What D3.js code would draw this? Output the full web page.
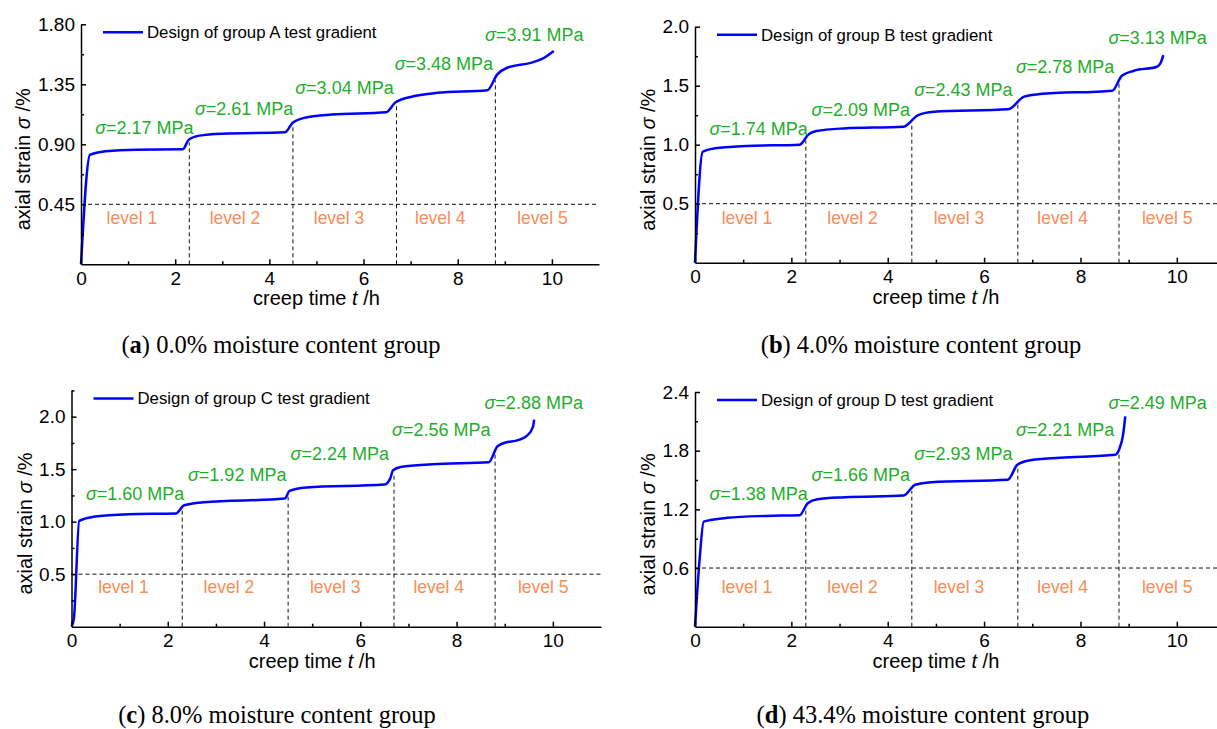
<!DOCTYPE html>
<html><head><meta charset="utf-8">
<script src="https://cdn.jsdelivr.net/npm/d3@7"></script>
<style>body{margin:0;background:#fff;overflow:hidden} svg{display:block}</style>
</head><body>
<svg id="chart" width="1217" height="729"></svg>
<script>
// ---------- data ----------
const levels = ["level 1", "level 2", "level 3", "level 4", "level 5"];
const levelBounds = [2.3, 4.5, 6.7, 8.8];
const levelCenters = [1.08, 3.27, 5.48, 7.63, 9.8];
const labelTimes = [0.3, 2.42, 4.55, 6.66, 8.58];
const xTicks = [0, 2, 4, 6, 8, 10];
const xMinorTicks = [1, 3, 5, 7, 9];
const groups = ["A", "B", "C", "D"];
const captionLetters = ["a", "b", "c", "d"];
const moistureContents = ["0.0%", "4.0%", "8.0%", "43.4%"];

const timeA   = [0, 0.19, 0.52, 1.18, 2.16, 2.29, 2.51, 3.0, 4.33, 4.49, 4.74, 5.32, 6.48, 6.68, 7.06, 7.56, 8.63, 8.84, 9.05, 9.55, 9.79, 10.04];
const strainA = [0, 0.82, 0.847, 0.86, 0.862, 0.935, 0.965, 0.98, 0.99, 1.06, 1.098, 1.123, 1.14, 1.215, 1.26, 1.286, 1.306, 1.424, 1.474, 1.511, 1.54, 1.60];
const stressA = ["2.17", "2.61", "3.04", "3.48", "3.91"];
const yTicksA = [0.45, 0.90, 1.35, 1.80];
const yTickLabelsA = ["0.45", "0.90", "1.35", "1.80"];
const thresholdA = 0.45;
const labelStrainA = [1.025, 1.170, 1.328, 1.508, 1.720];
const levelTextStrainA = 0.345;

const timeB   = [0, 0.16, 0.41, 1.06, 2.17, 2.36, 2.52, 3.09, 4.33, 4.63, 4.96, 6.5, 6.83, 7.15, 8.66, 8.86, 9.11, 9.59, 9.66, 9.72];
const strainB = [0, 0.94, 0.969, 0.989, 1.0, 1.088, 1.116, 1.138, 1.153, 1.251, 1.28, 1.30, 1.407, 1.429, 1.458, 1.585, 1.627, 1.661, 1.69, 1.76];
const stressB = ["1.74", "2.09", "2.43", "2.78", "3.13"];
const yTicksB = [0.5, 1.0, 1.5, 2.0];
const yTickLabelsB = ["0.5", "1.0", "1.5", "2.0"];
const thresholdB = 0.5;
const labelStrainB = [1.139, 1.295, 1.469, 1.661, 1.907];
const levelTextStrainB = 0.376;

const timeC   = [0, 0.05, 0.16, 0.45, 1.19, 2.17, 2.34, 2.75, 4.43, 4.53, 4.88, 6.5, 6.62, 6.68, 6.84, 7.5, 8.67, 8.85, 9.06, 9.22, 9.47, 9.59, 9.61];
const strainC = [0, 0.08, 1.008, 1.046, 1.071, 1.078, 1.157, 1.185, 1.22, 1.293, 1.325, 1.353, 1.41, 1.49, 1.521, 1.547, 1.566, 1.718, 1.759, 1.769, 1.822, 1.908, 1.971];
const stressC = ["1.60", "1.92", "2.24", "2.56", "2.88"];
const yTicksC = [0.5, 1.0, 1.5, 2.0];
const yTickLabelsC = ["0.5", "1.0", "1.5", "2.0"];
const thresholdC = 0.5;
const labelStrainC = [1.269, 1.450, 1.650, 1.872, 2.135];
const levelTextStrainC = 0.375;

const timeD   = [0, 0.1, 0.18, 0.67, 1.48, 2.17, 2.34, 2.54, 3.11, 4.33, 4.57, 4.9, 6.49, 6.69, 6.93, 7.58, 8.72, 8.8, 8.89, 8.93];
const strainD = [0, 0.717, 1.075, 1.113, 1.133, 1.14, 1.263, 1.304, 1.324, 1.341, 1.451, 1.478, 1.502, 1.655, 1.70, 1.727, 1.758, 1.809, 1.98, 2.15];
const stressD = ["1.38", "1.66", "2.93", "2.21", "2.49"];
const yTicksD = [0.6, 1.2, 1.8, 2.4];
const yTickLabelsD = ["0.6", "1.2", "1.8", "2.4"];
const thresholdD = 0.6;
const labelStrainD = [1.364, 1.558, 1.773, 2.011, 2.294];
const levelTextStrainD = 0.403;

// ---------- styles / layout ----------
const SANS = "'Liberation Sans', Arial, Helvetica, sans-serif";
const SERIF = "'Liberation Serif', 'Times New Roman', serif";
const BLUE = "#0000ff", GREEN = "#1fae2a", ORANGE = "#fa8c55";

const panels = [
  {time: timeA, strain: strainA, stress: stressA, yTicks: yTicksA, yLabels: yTickLabelsA, threshold: thresholdA,
   labelStrain: labelStrainA, levelY: levelTextStrainA, yMax: 1.8,
   box: {left: 81, right: 599, top: 24.3, bottom: 264.3}, yTitleOff: 58, capX: 281, capY: 353},
  {time: timeB, strain: strainB, stress: stressB, yTicks: yTicksB, yLabels: yTickLabelsB, threshold: thresholdB,
   labelStrain: labelStrainB, levelY: levelTextStrainB, yMax: 2.0,
   box: {left: 695, right: 1225, top: 26.7, bottom: 262.7}, yTitleOff: 47, capX: 921, capY: 353},
  {time: timeC, strain: strainC, stress: stressC, yTicks: yTicksC, yLabels: yTickLabelsC, threshold: thresholdC,
   labelStrain: labelStrainC, levelY: levelTextStrainC, yMax: 2.25,
   box: {left: 71.5, right: 601, top: 390.4, bottom: 626.7}, yTitleOff: 47, capX: 277, capY: 723},
  {time: timeD, strain: strainD, stress: stressD, yTicks: yTicksD, yLabels: yTickLabelsD, threshold: thresholdD,
   labelStrain: labelStrainD, levelY: levelTextStrainD, yMax: 2.4,
   box: {left: 695, right: 1225, top: 392, bottom: 626.7}, yTitleOff: 47, capX: 923, capY: 723}
];

const svg = d3.select("#chart");

function interp(ts, vs, t) {
  for (let i = 1; i < ts.length; i++) {
    if (t <= ts[i]) { const f = (t - ts[i-1]) / (ts[i] - ts[i-1]); return vs[i-1] + f * (vs[i] - vs[i-1]); }
  }
  return vs[vs.length - 1];
}

panels.forEach((p, pi) => {
  const x = d3.scaleLinear().domain([0, 11]).range([p.box.left, p.box.right]);
  const y = d3.scaleLinear().domain([0, p.yMax]).range([p.box.bottom, p.box.top]);
  const g = svg.append("g");

  // dashed reference lines
  g.append("line").attr("x1", x(0)).attr("x2", x(11)).attr("y1", y(p.threshold)).attr("y2", y(p.threshold))
    .attr("stroke", "#111").attr("stroke-width", 1).attr("stroke-dasharray", "4,3");
  levelBounds.forEach(t => {
    const v = interp(p.time, p.strain, t);
    g.append("line").attr("x1", x(t)).attr("x2", x(t)).attr("y1", y(0)).attr("y2", y(v) + 3)
      .attr("stroke", "#111").attr("stroke-width", 1).attr("stroke-dasharray", "4,3");
  });

  // curve
  const pts = p.time.map((t, i) => [t, p.strain[i]]);
  g.append("path").datum(pts)
    .attr("d", d3.line().x(d => x(d[0])).y(d => y(d[1])).curve(d3.curveMonotoneX))
    .attr("fill", "none").attr("stroke", BLUE).attr("stroke-width", 2.5).attr("stroke-linejoin", "round");

  // x axis
  const xAxis = d3.axisBottom(x).tickValues(xTicks).tickSize(-5).tickSizeOuter(0).tickPadding(7).tickFormat(d3.format("d"));
  const gx = g.append("g").attr("transform", `translate(0,${y(0)})`).call(xAxis);
  const gxm = g.append("g").attr("transform", `translate(0,${y(0)})`)
    .call(d3.axisBottom(x).tickValues(xMinorTicks).tickSize(-3).tickSizeOuter(0).tickFormat(""));
  gxm.select(".domain").remove();

  // y axis
  const step = p.yTicks[1] - p.yTicks[0];
  const yMinor = d3.range(step / 2, p.yMax + 1e-6, step).filter(v => Math.abs((v / step) - Math.round(v / step)) > 0.1);
  const yAxis = d3.axisLeft(y).tickValues(p.yTicks).tickSize(-5).tickSizeOuter(0).tickPadding(6)
    .tickFormat((d, i) => p.yLabels[i]);
  const gy = g.append("g").attr("transform", `translate(${x(0)},0)`).call(yAxis);
  const gym = g.append("g").attr("transform", `translate(${x(0)},0)`)
    .call(d3.axisLeft(y).tickValues(yMinor).tickSize(-3).tickSizeOuter(0).tickFormat(""));
  gym.select(".domain").remove();

  [gx, gy, gxm, gym].forEach(a => {
    a.selectAll("path,line").attr("stroke", "#000").attr("stroke-width", 1.5);
    a.selectAll("text").attr("font-family", SANS).attr("font-size", 19).attr("fill", "#000");
  });

  // axis titles
  const xt = g.append("text").attr("x", x(5)).attr("y", p.box.bottom + 41).attr("text-anchor", "middle")
    .attr("font-family", SANS).attr("font-size", 20).attr("fill", "#000");
  xt.append("tspan").text("creep time ");
  xt.append("tspan").attr("font-style", "italic").text("t");
  xt.append("tspan").text(" /h");

  const yt = g.append("text")
    .attr("transform", `translate(${p.box.left - p.yTitleOff},${(p.box.top + p.box.bottom) / 2 + 15}) rotate(-90)`)
    .attr("text-anchor", "middle").attr("dy", "0.35em")
    .attr("font-family", SANS).attr("font-size", 20).attr("fill", "#000");
  yt.append("tspan").text("axial strain ");
  yt.append("tspan").attr("font-style", "italic").text("σ");
  yt.append("tspan").text(" /%");

  // legend
  g.append("line").attr("x1", p.box.left + 22).attr("x2", p.box.left + 62)
    .attr("y1", p.box.top + 8).attr("y2", p.box.top + 8).attr("stroke", BLUE).attr("stroke-width", 2.5);
  g.append("text").attr("x", p.box.left + 66).attr("y", p.box.top + 8).attr("dy", "0.35em")
    .attr("font-family", SANS).attr("font-size", 16.8).attr("fill", "#000")
    .text(`Design of group ${groups[pi]} test gradient`);

  // stress labels
  p.stress.forEach((s, i) => {
    const t = g.append("text").attr("x", x(labelTimes[i])).attr("y", y(p.labelStrain[i])).attr("dy", "0.35em")
      .attr("font-family", SANS).attr("font-size", 18).attr("fill", GREEN);
    t.append("tspan").attr("font-style", "italic").text("σ");
    t.append("tspan").text(`=${s} MPa`);
  });

  // level labels
  levels.forEach((lv, i) => {
    g.append("text").attr("x", x(levelCenters[i])).attr("y", y(p.levelY)).attr("dy", "0.35em")
      .attr("text-anchor", "middle").attr("font-family", SANS).attr("font-size", 17.5).attr("fill", ORANGE).text(lv);
  });

  // caption
  const cap = svg.append("text").attr("x", p.capX).attr("y", p.capY).attr("text-anchor", "middle")
    .attr("font-family", SERIF).attr("font-size", 24.5).attr("fill", "#000");
  cap.append("tspan").text("(");
  cap.append("tspan").attr("font-weight", "bold").text(captionLetters[pi]);
  cap.append("tspan").text(`) ${moistureContents[pi]} moisture content group`);
});
</script>
</body></html>
